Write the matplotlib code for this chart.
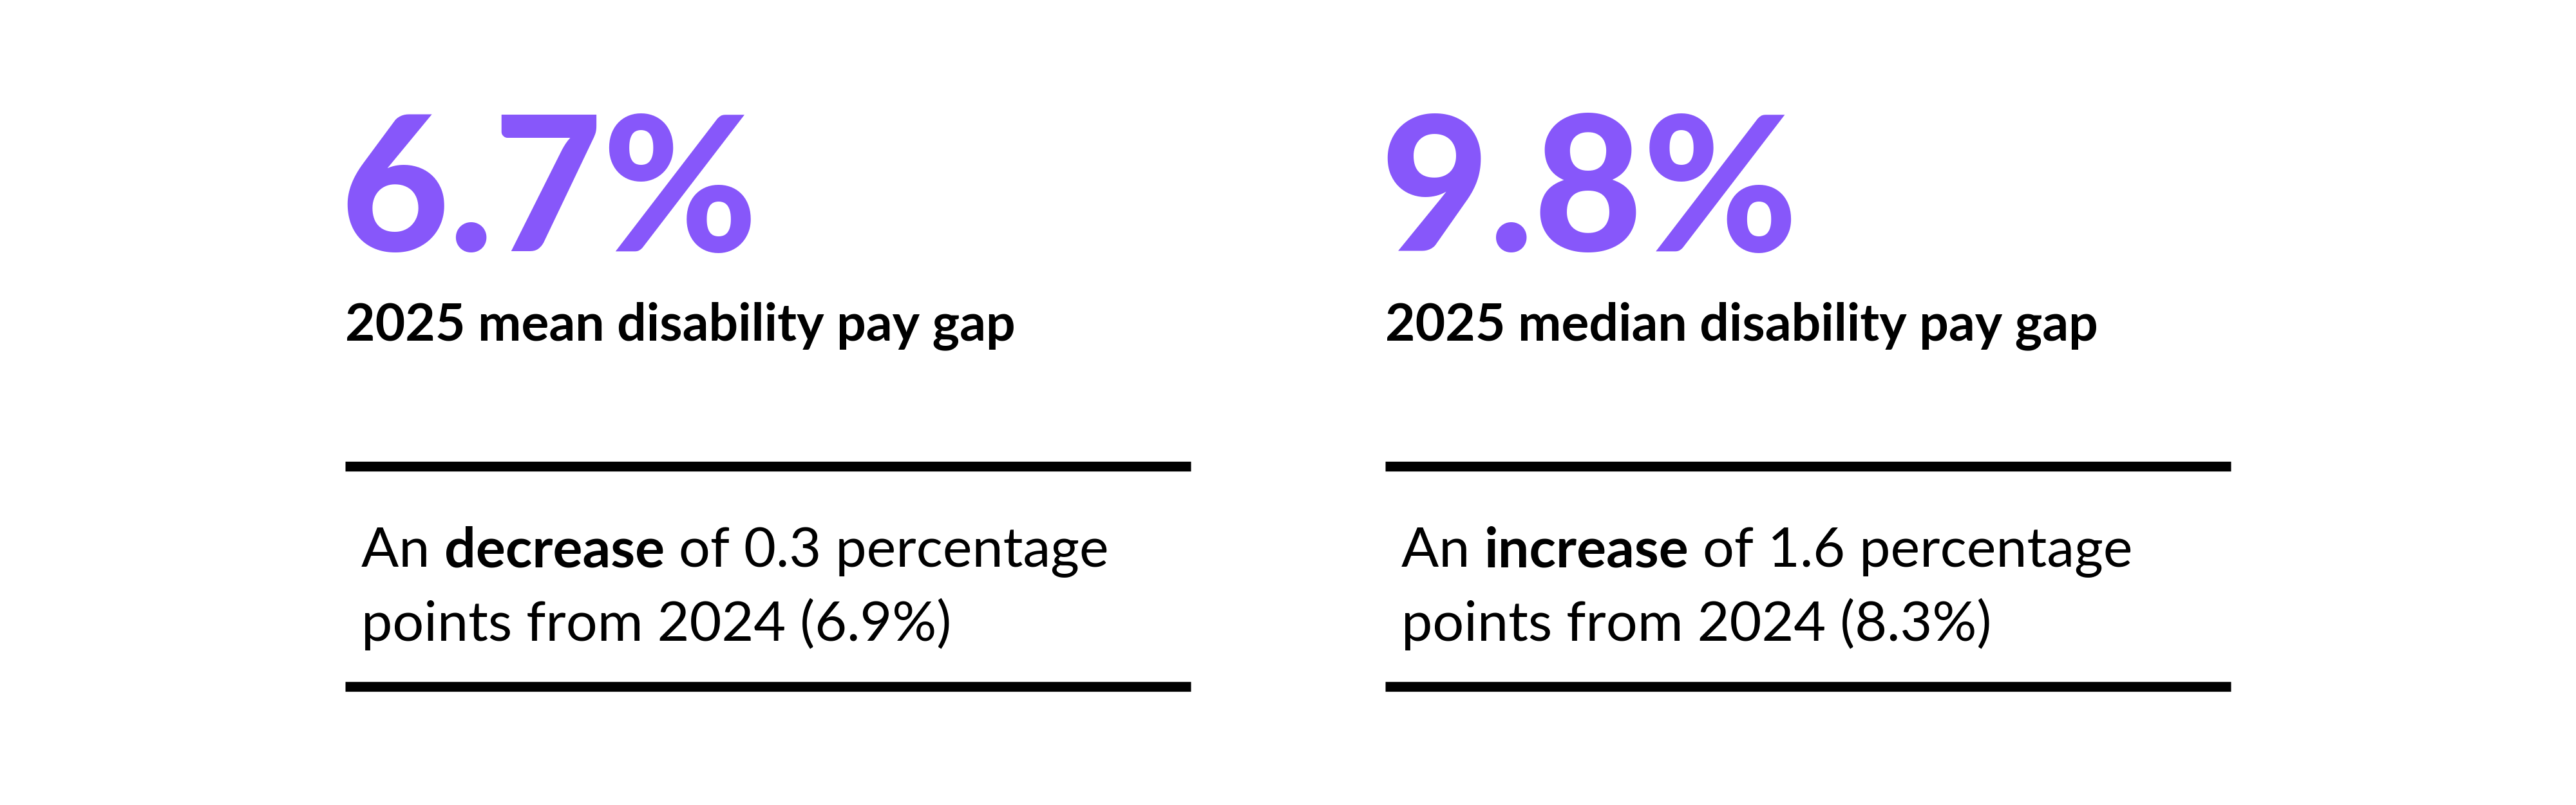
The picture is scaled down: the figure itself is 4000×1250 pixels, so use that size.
import matplotlib
matplotlib.use('Agg')
import matplotlib.pyplot as plt
from matplotlib.lines import Line2D

PURPLE = '#8757FA'
values = ['6.7%', '9.8%']
labels = ['2025 mean disability pay gap', '2025 median disability pay gap']
change_words = ['decrease', 'increase']
change_amounts = ['0.3', '1.6']
prev_values = ['6.9%', '8.3%']

W, H = 1568, 490   # reference layout units
def fx(x): return x / W
def fy(y): return 1 - y / H

fig = plt.figure(figsize=(40, 12.5), dpi=100)
fig.patch.set_facecolor('white')
renderer = fig.canvas.get_renderer()

col_left = [210, 843]
for i, x0 in enumerate(col_left):
    fig.text(fx(x0 - 3), fy(153), values[i], fontsize=210, fontweight='black',
             family='Lato', color=PURPLE, va='baseline', ha='left')
    fig.text(fx(x0), fy(207), labels[i], fontsize=58, fontweight='bold',
             family='Lato', color='black', va='baseline', ha='left')
    for yy in (284, 418):
        fig.add_artist(Line2D([fx(x0), fx(x0 + 515)], [fy(yy), fy(yy)],
                              color='black', lw=11, solid_capstyle='butt'))
    # first body line with bold word
    parts = [('An ', 'normal'), (change_words[i], 'bold'),
             (f' of {change_amounts[i]} percentage', 'normal')]
    x = fx(x0 + 10)
    for txt, wt in parts:
        t = fig.text(x, fy(345), txt, fontsize=62, fontweight=wt, family='Lato',
                     color='black', va='baseline', ha='left')
        bb = t.get_window_extent(renderer)
        x += bb.width / fig.bbox.width
    fig.text(fx(x0 + 10), fy(390), f'points from 2024 ({prev_values[i]})',
             fontsize=62, family='Lato', color='black', va='baseline', ha='left')

fig.savefig('out.png', dpi=100, facecolor='white')
